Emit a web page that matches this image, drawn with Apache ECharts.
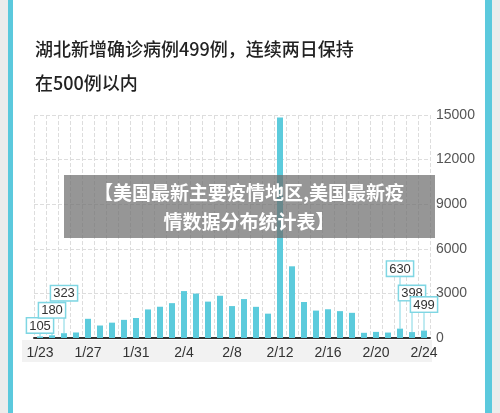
<!DOCTYPE html><html><head><meta charset="utf-8">
<script src="https://cdn.jsdelivr.net/npm/echarts@6/dist/echarts.min.js"></script>
<style>html,body{margin:0;padding:0;background:#ececec}#c{width:500px;height:413px}</style></head><body><div id="c"></div>
<script>
const categories=['1/23','1/24','1/25','1/26','1/27','1/28','1/29','1/30','1/31','2/1','2/2','2/3','2/4','2/5','2/6','2/7','2/8','2/9','2/10','2/11','2/12','2/13','2/14','2/15','2/16','2/17','2/18','2/19','2/20','2/21','2/22','2/23','2/24'];
const newCases=[105,180,323,371,1291,840,1032,1220,1347,1921,2103,2345,3156,2987,2447,2841,2147,2618,2097,1638,14840,4823,2420,1843,1933,1807,1693,349,411,366,630,398,499];
const labelled={0:-2,1:-16,2:-31,30:-51,31:-30,32:-17};
const yTicks=[0,3000,6000,9000,12000,15000];
const chart=echarts.init(document.getElementById('c'));
const data=newCases.map((v,i)=>{
  if(labelled[i]===undefined) return v;
  return {value:v,label:{show:true,position:'top',distance:2,color:'#333',fontSize:13,fontFamily:'Liberation Sans',borderColor:'#7fd6e3',borderWidth:1.5,backgroundColor:'#fff',padding:[1,2,0,2]},
    labelLine:{show:true,lineStyle:{color:'#7fd6e3',width:1}}};
});
chart.setOption({
  backgroundColor:'#ececec',
  graphic:[
    {type:'rect',shape:{x:8,y:0,width:484,height:413},style:{fill:'#fff'},z:-10},
    {type:'rect',shape:{x:8,y:0,width:5,height:413},style:{fill:'#5bc9dd'}},
    {type:'rect',shape:{x:485,y:0,width:7,height:413},style:{fill:'#5bc9dd'}},
    {type:'rect',shape:{x:22,y:340,width:410,height:22},style:{fill:'#f2f2f2'},z:-5},
    {type:'text',left:35,top:32,style:{text:'湖北新增确诊病例499例，连续两日保持\n在500例以内',fontSize:18,lineHeight:34,fontWeight:500,fill:'#222',fontFamily:'Noto Sans CJK SC'}},
    {type:'rect',shape:{x:64,y:175,width:371,height:63},style:{fill:'rgba(110,110,110,0.72)'},z:100},
    {type:'text',x:249,y:207,z:101,style:{text:'【美国最新主要疫情地区,美国最新疫\n情数据分布统计表】',align:'center',verticalAlign:'middle',fontSize:19,fontWeight:'bold',lineHeight:29,fill:'#fff',fontFamily:'Noto Sans CJK SC'}}
  ],
  grid:{left:34,right:70,top:115,bottom:75},
  xAxis:{type:'category',data:categories,boundaryGap:true,
    axisLine:{lineStyle:{color:'#333',width:2}},axisTick:{show:false},
    axisLabel:{interval:3,color:'#333',fontSize:14,fontFamily:'Liberation Sans',margin:8},
    splitLine:{show:true,interval:0,lineStyle:{color:'#ddd',type:'dashed'}}},
  yAxis:{type:'value',position:'right',min:0,max:15000,interval:3000,
    axisLine:{show:false},axisTick:{show:false},
    axisLabel:{color:'#555',fontSize:14,fontFamily:'Liberation Sans',margin:6,formatter:v=>yTicks.includes(v)?String(v):''},
    splitLine:{lineStyle:{color:'#ddd',type:'dashed'}}},
  series:[{type:'bar',data:data,barWidth:6,itemStyle:{color:'#5ccbdc'},animation:false,
    labelLayout:p=>labelled[p.dataIndex]!==undefined?{dy:labelled[p.dataIndex],hideOverlap:false}:{}}]
});
</script></body></html>
